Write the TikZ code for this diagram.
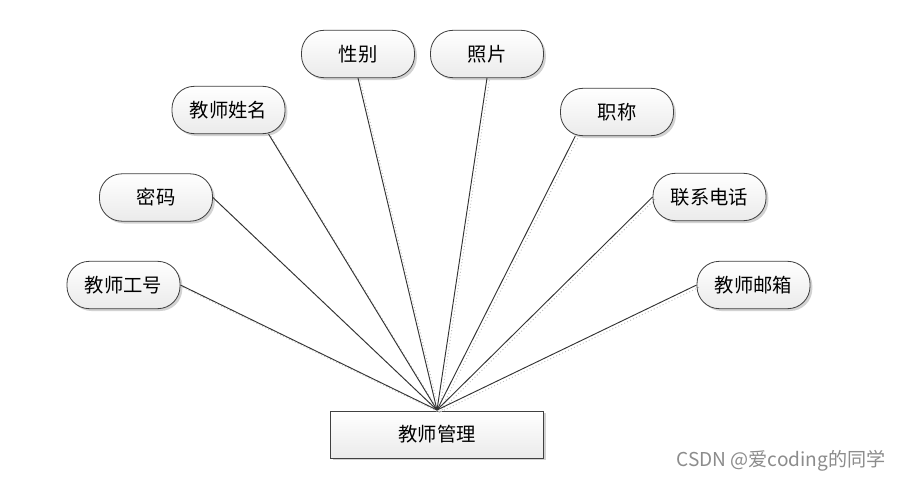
\documentclass[tikz,border=0pt]{standalone}
\usepackage{fontspec}
\setmainfont{Noto Sans CJK SC}
\usetikzlibrary{shadows}

\tikzset{
  attr/.style={draw=black!75, line width=0.7pt, rounded corners=19pt,
    minimum width=3.39cm, minimum height=1.42cm, inner sep=0pt,
    top color=white, bottom color=black!8,
    drop shadow={opacity=0.35, shadow xshift=2pt, shadow yshift=-2pt},
    font=\fontsize{16.5}{18}\selectfont},
  entity/.style={draw=black!75, line width=0.7pt,
    minimum width=6.39cm, minimum height=1.41cm, inner sep=0pt,
    top color=white, bottom color=black!8,
    drop shadow={opacity=0.35, shadow xshift=2pt, shadow yshift=-2pt},
    font=\fontsize{16.5}{18}\selectfont},
  link/.style={draw=black!80, line width=0.8pt,
    preaction={draw=black!25, dotted, line width=0.8pt,
      transform canvas={xshift=2pt, yshift=-2pt}}}
}

\begin{document}
\begin{tikzpicture}[x=0.03cm, y=-0.03cm]
\useasboundingbox[fill=white] (0,0) rectangle (900,480);

% entity
\node[entity] (guanli) at (437,434.5) {教师管理};
\coordinate (hub) at (437,410);

% attributes
\node[attr] (gonghao) at (123.5,285) {教师工号};
\node[attr] (mima) at (156,197.5) {密码};
\node[attr] (xingming) at (228.5,110) {教师姓名};
\node[attr] (xingbie) at (358,54) {性别};
\node[attr] (zhaopian) at (487,54) {照片};
\node[attr] (zhicheng) at (617,112) {职称};
\node[attr] (dianhua) at (709.5,197) {联系电话};
\node[attr] (youxiang) at (753.5,285) {教师邮箱};

% links
\foreach \a in {gonghao.east,mima.east,xingming.-31,xingbie.south,
                zhaopian.south,zhicheng.210,dianhua.west,youxiang.west}
  \draw[link] (\a) -- (hub);

\node[text=black!45, font=\fontsize{16.3}{18}\selectfont] (mark) at (781,461) {CSDN @爱coding的同学};
\end{tikzpicture}
\end{document}
